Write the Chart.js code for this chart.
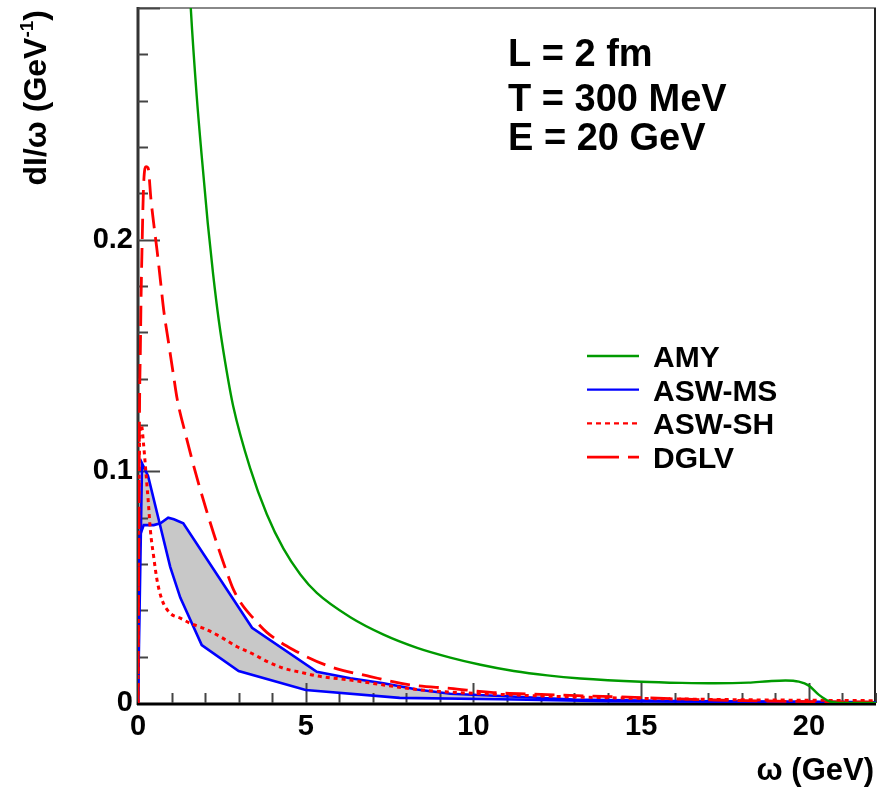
<!DOCTYPE html>
<html><head><meta charset="utf-8">
<script src="https://cdn.jsdelivr.net/npm/chart.js@4.4.0/dist/chart.umd.min.js"></script>
<style>html,body{margin:0;padding:0;background:#fff;}#wrap{width:877px;height:787px;position:relative;}</style>
</head><body><div id="wrap"><canvas id="c" width="877" height="787"></canvas></div>
<script>
// ---- data (omega in GeV, dI/omega in GeV^-1) ----
const amyW = [1.45,1.573,1.75,1.9,2.08,2.24,2.41,2.6,2.84,3.34,3.84,4.34,4.84,5.33,6.33,7.32,8.32,9.31,10.21,11.2,12.2,13.19,15.0,16.2,17.2,18.2,18.8,19.3,19.7,20.0,20.3,20.6,21.0,22.0];
const amyV = [0.335,0.300,0.262,0.236,0.207,0.185,0.165,0.147,0.128,0.1015,0.0815,0.0665,0.0555,0.0475,0.0370,0.0295,0.0238,0.0196,0.0165,0.0138,0.0119,0.0106,0.0092,0.0087,0.0085,0.0088,0.0094,0.0097,0.0092,0.0075,0.0035,0.0008,0,0];

const msLowW = [0,0.12,0.3,0.62,0.96,1.26,1.9,3.0,5.0,7.8,10.8,14,22];
const msLowV = [0,0.1035,0.098,0.079,0.0588,0.0455,0.025,0.0138,0.0056,0.0022,0.0016,0.0008,0.0003];
const msUpW = [0,0.05,0.17,0.47,0.667,0.9,1.07,1.35,3.4,5.33,6.33,7.32,8.32,9.31,10.8,13,16,22];
const msUpV = [0,0.072,0.0768,0.0768,0.0776,0.080,0.0793,0.0776,0.0325,0.0135,0.0107,0.0085,0.0058,0.004,0.003,0.0015,0.0008,0.0003];

const shW = [0,0.02,0.05,0.1,0.17,0.25,0.318,0.368,0.468,0.567,0.716,0.965,1.263,1.561,1.96,2.457,2.955,3.45,3.84,4.34,4.836,5.334,6.328,7.32,8.32,9.31,10.8,12.5,15,18,22];
const shV = [0,0.07,0.115,0.12,0.111,0.097,0.0847,0.0747,0.0631,0.0531,0.0445,0.0387,0.0366,0.0344,0.0322,0.0286,0.0243,0.021,0.018,0.015,0.0133,0.0117,0.0099,0.0078,0.0058,0.0047,0.0037,0.0028,0.002,0.0014,0.001];

const dglvW = [0,0.02,0.05,0.07,0.09,0.119,0.169,0.24,0.3,0.388,0.468,0.567,0.667,0.766,0.915,1.065,1.164,1.4,1.752,2.248,2.696,2.85,3.1,3.443,3.84,4.64,5.73,6.93,8.12,9.31,10.6,12.0,14.2,17.2,20.0,22.0];
const dglvV = [0,0.06,0.134,0.152,0.174,0.1955,0.2243,0.2315,0.231,0.2171,0.207,0.1955,0.1826,0.1696,0.1552,0.1408,0.1315,0.117,0.0975,0.0735,0.0545,0.0488,0.0425,0.0365,0.0305,0.0229,0.0157,0.0114,0.0078,0.0063,0.0045,0.0037,0.0027,0.0013,0.0006,0.0004];

const xTickVals = [0,5,10,15,20];
const yTickVals = [0,0.1,0.2];
const xMinorStep = 1, yMinorStep = 0.02;
const infoLines = ['L = 2 fm','T = 300 MeV','E = 20 GeV'];
const legendNames = ['AMY','ASW-MS','ASW-SH','DGLV'];

// ---- styling ----
const FONT = '"Liberation Sans", Arial, Helvetica, sans-serif';
const GREEN = '#009a00', BLUE = '#0000ff', RED = '#ff0000', GRAY = '#c8c8c8';
const pts = (w, v) => w.map((x, i) => ({x, y: v[i]}));

const legendStyles = [
  {color: GREEN, width: 2.4, dash: []},
  {color: BLUE, width: 2.2, dash: []},
  {color: RED, width: 2.4, dash: [5, 4]},
  {color: RED, width: 2.8, dash: [32, 9]}
];

const decor = {
  id: 'decor',
  beforeDatasetsDraw(chart) {
    const ctx = chart.ctx, a = chart.chartArea, xs = chart.scales.x, ys = chart.scales.y;
    ctx.save();
    ctx.lineWidth = 2; ctx.strokeStyle = '#888';
    ctx.beginPath(); ctx.moveTo(a.left, a.top); ctx.lineTo(a.right, a.top); ctx.stroke();
    ctx.strokeStyle = '#222';
    ctx.beginPath(); ctx.moveTo(a.right - 1, a.top); ctx.lineTo(a.right - 1, a.bottom); ctx.stroke();
    ctx.lineWidth = 3; ctx.strokeStyle = '#333';
    ctx.beginPath(); ctx.moveTo(a.left, a.top - 1); ctx.lineTo(a.left, a.bottom + 2); ctx.stroke();
    ctx.strokeStyle = '#000';
    ctx.beginPath(); ctx.moveTo(a.left - 1, a.bottom + 1); ctx.lineTo(a.right, a.bottom + 1); ctx.stroke();
    ctx.lineWidth = 2; ctx.strokeStyle = '#444';
    for (let v = xMinorStep; v <= xs.max + 1e-9; v += xMinorStep) {
      const px = Math.round(xs.getPixelForValue(v)) + 0.5;
      const major = Math.abs(v / 5 - Math.round(v / 5)) < 1e-6;
      ctx.beginPath(); ctx.moveTo(px, a.bottom); ctx.lineTo(px, a.bottom - (major ? 20 : 10)); ctx.stroke();
    }
    for (let i = 1; i * yMinorStep <= ys.max + 1e-9; i++) {
      const v = i * yMinorStep;
      const py = Math.round(ys.getPixelForValue(v)) + 0.5;
      const major = i % 5 === 0;
      ctx.beginPath(); ctx.moveTo(a.left, py); ctx.lineTo(a.left + (major ? 22 : 10), py); ctx.stroke();
    }
    ctx.restore();
  },
  afterDraw(chart) {
    const ctx = chart.ctx, a = chart.chartArea;
    ctx.save();
    ctx.fillStyle = '#000';
    ctx.font = 'bold 38px ' + FONT;
    ctx.textAlign = 'left'; ctx.textBaseline = 'alphabetic';
    const base = [66, 111, 150];
    infoLines.forEach((t, i) => ctx.fillText(t, a.left + 370, base[i]));
    ctx.font = 'bold 30px ' + FONT;
    legendNames.forEach((name, i) => {
      const cy = 356 + i * 33.7;
      const st = legendStyles[i];
      ctx.save();
      ctx.strokeStyle = st.color; ctx.lineWidth = st.width; ctx.setLineDash(st.dash);
      ctx.beginPath(); ctx.moveTo(587, cy); ctx.lineTo(639, cy); ctx.stroke();
      ctx.restore();
      ctx.fillText(name, 653, cy + 11);
    });
    ctx.font = 'bold 31px ' + FONT;
    ctx.textAlign = 'right';
    ctx.fillText('\u03c9 (GeV)', 874, 780);
    ctx.translate(46, 10);
    ctx.rotate(-Math.PI / 2);
    ctx.textAlign = 'left';
    const big = 'bold 32px ' + FONT, small = 'bold 19px ' + FONT;
    ctx.font = big; const w1 = ctx.measureText('dI/\u03c9 (GeV').width;
    ctx.font = small; const w2 = ctx.measureText('-1').width;
    ctx.font = big; const w3 = ctx.measureText(')').width;
    let x0 = -(w1 + w2 + w3);
    ctx.font = big; ctx.fillText('dI/\u03c9 (GeV', x0, 0); x0 += w1;
    ctx.font = small; ctx.fillText('-1', x0, -13); x0 += w2;
    ctx.font = big; ctx.fillText(')', x0, 0);
    ctx.restore();
  }
};

const tickFont = {family: FONT, size: 29, weight: 'bold'};

new Chart(document.getElementById('c'), {
  type: 'line',
  data: {
    datasets: [
      {label: 'AMY', data: pts(amyW, amyV), borderColor: GREEN, borderWidth: 2.4, pointRadius: 0, fill: false, cubicInterpolationMode: 'monotone'},
      {label: 'DGLV', data: pts(dglvW, dglvV), borderColor: RED, borderWidth: 2.8, borderDash: [20, 9], pointRadius: 0, fill: false, cubicInterpolationMode: 'monotone'},
      {label: 'ASW-SH', data: pts(shW, shV), borderColor: RED, borderWidth: 3, borderDash: [4, 4], pointRadius: 0, fill: false, cubicInterpolationMode: 'monotone'},
      {label: 'ASW-MS low', data: pts(msLowW, msLowV), borderColor: BLUE, borderWidth: 2.6, pointRadius: 0, fill: false, tension: 0},
      {label: 'ASW-MS up', data: pts(msUpW, msUpV), borderColor: BLUE, borderWidth: 2.6, pointRadius: 0, tension: 0,
        fill: {target: '-1', above: GRAY, below: GRAY}, backgroundColor: GRAY}
    ]
  },
  options: {
    responsive: false, animation: false, devicePixelRatio: 1,
    layout: {padding: {top: 8, right: 1, left: 0, bottom: 0}},
    plugins: {legend: {display: false}, tooltip: {enabled: false}, filler: {drawTime: 'beforeDatasetsDraw'}},
    scales: {
      x: {
        type: 'linear', min: 0, max: 22,
        afterBuildTicks: s => { s.ticks = xTickVals.map(v => ({value: v})); },
        afterFit: s => { s.height = 84; s.paddingLeft = 0; s.paddingRight = 0; },
        ticks: {font: tickFont, color: '#000', padding: 7, maxRotation: 0, autoSkip: false, callback: v => String(v)},
        grid: {display: false, drawTicks: false}, border: {display: false}
      },
      y: {
        type: 'linear', min: 0, max: 0.3,
        afterBuildTicks: s => { s.ticks = yTickVals.map(v => ({value: v})); },
        afterFit: s => { s.width = 138; s.paddingTop = 0; s.paddingBottom = 0; },
        ticks: {font: tickFont, color: '#000', padding: 5, autoSkip: false, callback: v => (v === 0 ? '0' : v.toFixed(1))},
        grid: {display: false, drawTicks: false}, border: {display: false}
      }
    }
  },
  plugins: [decor]
});
</script>
</body></html>
